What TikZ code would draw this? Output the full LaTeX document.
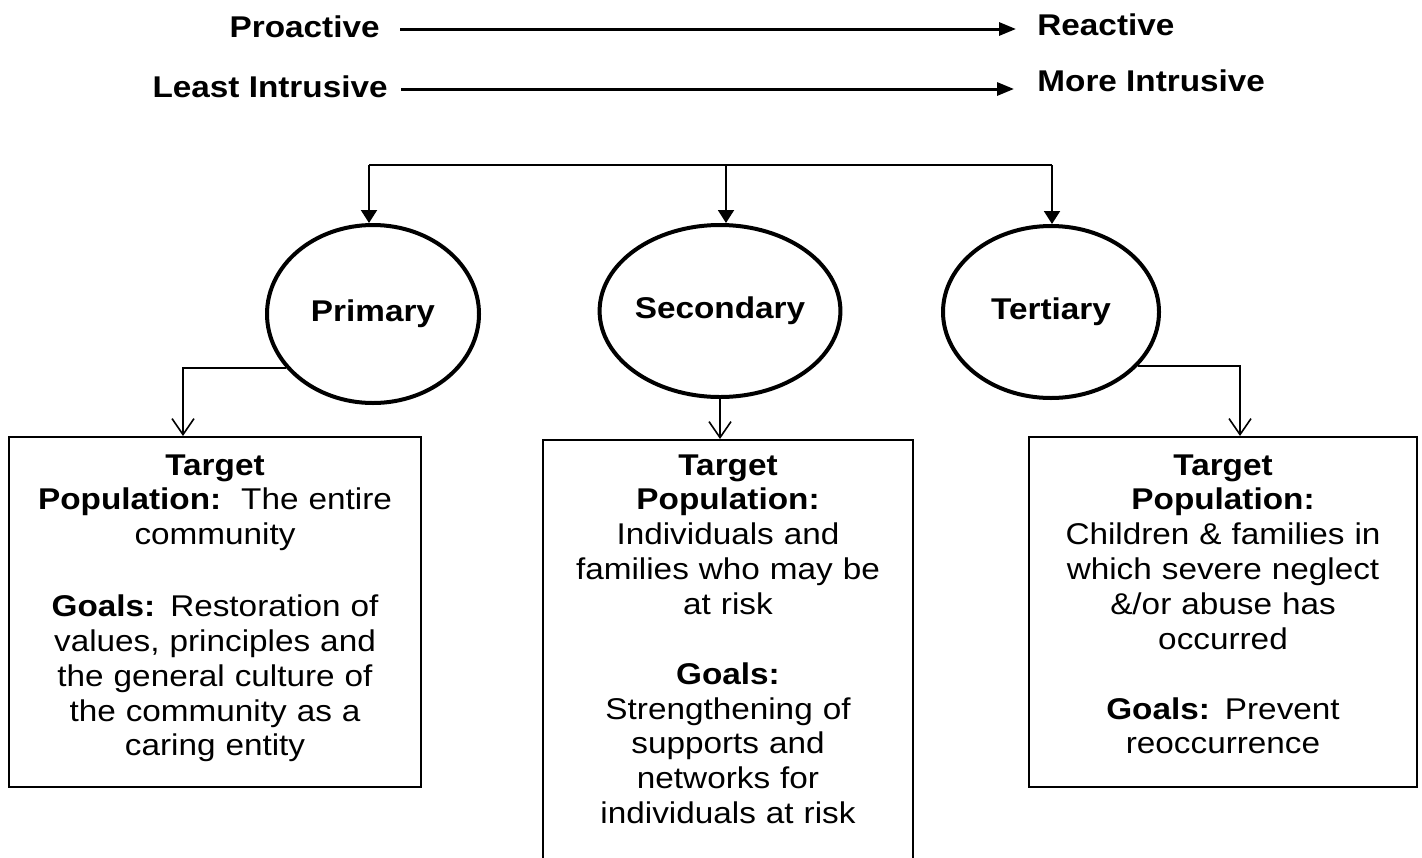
\documentclass[tikz,border=0pt]{standalone}
\usepackage{fontspec}
\setmainfont[FakeStretch=1.11]{Liberation Sans}
\usetikzlibrary{arrows.meta,shapes.geometric,calc}
\newcommand\mybasefont{\fontsize{15pt}{17.4pt}\selectfont}
\tikzset{
  lbl/.style={font=\mybasefont\bfseries, inner sep=0pt},
  ell/.style={draw, ellipse, line width=2pt, inner sep=0pt, font=\mybasefont\bfseries},
  boxnode/.style={draw, rectangle, line width=1pt, inner sep=0pt},
  boxtext/.style={align=center, inner sep=0pt, font=\mybasefont},
  toparrow/.style={line width=1.5pt, -{Triangle[length=8.5pt,width=6.5pt]}},
  bracket/.style={line width=1pt},
  downtri/.style={line width=1pt, -{Triangle[length=6.5pt,width=8pt]}},
  vee/.style={line width=0.8pt, -{Straight Barb[length=8pt,width=11pt]}}
}
\begin{document}
\begin{tikzpicture}[x=0.5pt,y=-0.5pt]
\useasboundingbox (0,0) rectangle (1422,857);
\clip (0,0) rectangle (1422,857);
% top scale labels
\node[lbl, anchor=base east] (pro) at (380,37) {Proactive};
\node[lbl, anchor=base west] (rea) at (1037,35) {Reactive};
\node[lbl, anchor=base east] (least) at (388,97) {Least Intrusive};
\node[lbl, anchor=base west] (more) at (1037,91) {More Intrusive};
\coordinate (a1s) at (400,29);
\coordinate (a1e) at (1016,29);
\coordinate (a2s) at (401,89);
\coordinate (a2e) at (1014,89);
\draw[toparrow] (a1s) -- (a1e);
\draw[toparrow] (a2s) -- (a2e);
% ellipses
\node[ell, minimum width=106pt, minimum height=89pt] (prim) at (373,314) {Primary};
\node[ell, minimum width=107pt, minimum height=86pt] (sec) at (720,311) {Secondary};
\node[ell, minimum width=108pt, minimum height=86pt] (tert) at (1051,312) {Tertiary};
% bracket
\coordinate (bl) at (369,165);
\coordinate (bm) at (726,165);
\coordinate (br) at (1052,165);
\draw[bracket] (bl) -- (br);
\draw[downtri] (bl) -- (bl |- prim.north);
\draw[downtri] (bm) -- (bm |- sec.north);
\draw[downtri] (br) -- (br |- tert.north);
% boxes
\node[boxnode, minimum width=206pt, minimum height=175pt] (box1) at (215,612) {};
\node[boxnode, anchor=north, minimum width=185pt, minimum height=240pt] (box2) at (728,439) {};
\node[boxnode, minimum width=194pt, minimum height=175pt] (box3) at (1223,612) {};
\node[boxtext, text width=200pt, anchor=base] (t1) at (215,475)
 {\textbf{Target}\\ \textbf{Population:}~~The entire\\ community\\[18.6pt]
  \textbf{Goals:} Restoration of\\ values, principles and\\ the general culture of\\ the community as a\\ caring entity};
\node[boxtext, text width=180pt, anchor=base] (t2) at (728,475)
 {\textbf{Target}\\ \textbf{Population:}\\ Individuals and\\ families who may be\\ at risk\\[17.6pt]
  \textbf{Goals:}\\ Strengthening of\\ supports and\\ networks for\\ individuals at risk};
\node[boxtext, text width=190pt, anchor=base] (t3) at (1223,475)
 {\textbf{Target}\\ \textbf{Population:}\\ Children \& families in\\ which severe neglect\\ \&/or abuse has\\ occurred\\[17.6pt]
  \textbf{Goals:} Prevent\\ reoccurrence};
% lower connectors
\draw[vee] (prim.212) -| ($(box1.north)+(-32,0)$);
\draw[vee] (sec.south) -- (sec.south |- box2.north);
\draw[vee] (tert.328) -| ($(box3.north)+(17,0)$);
\end{tikzpicture}
\end{document}
